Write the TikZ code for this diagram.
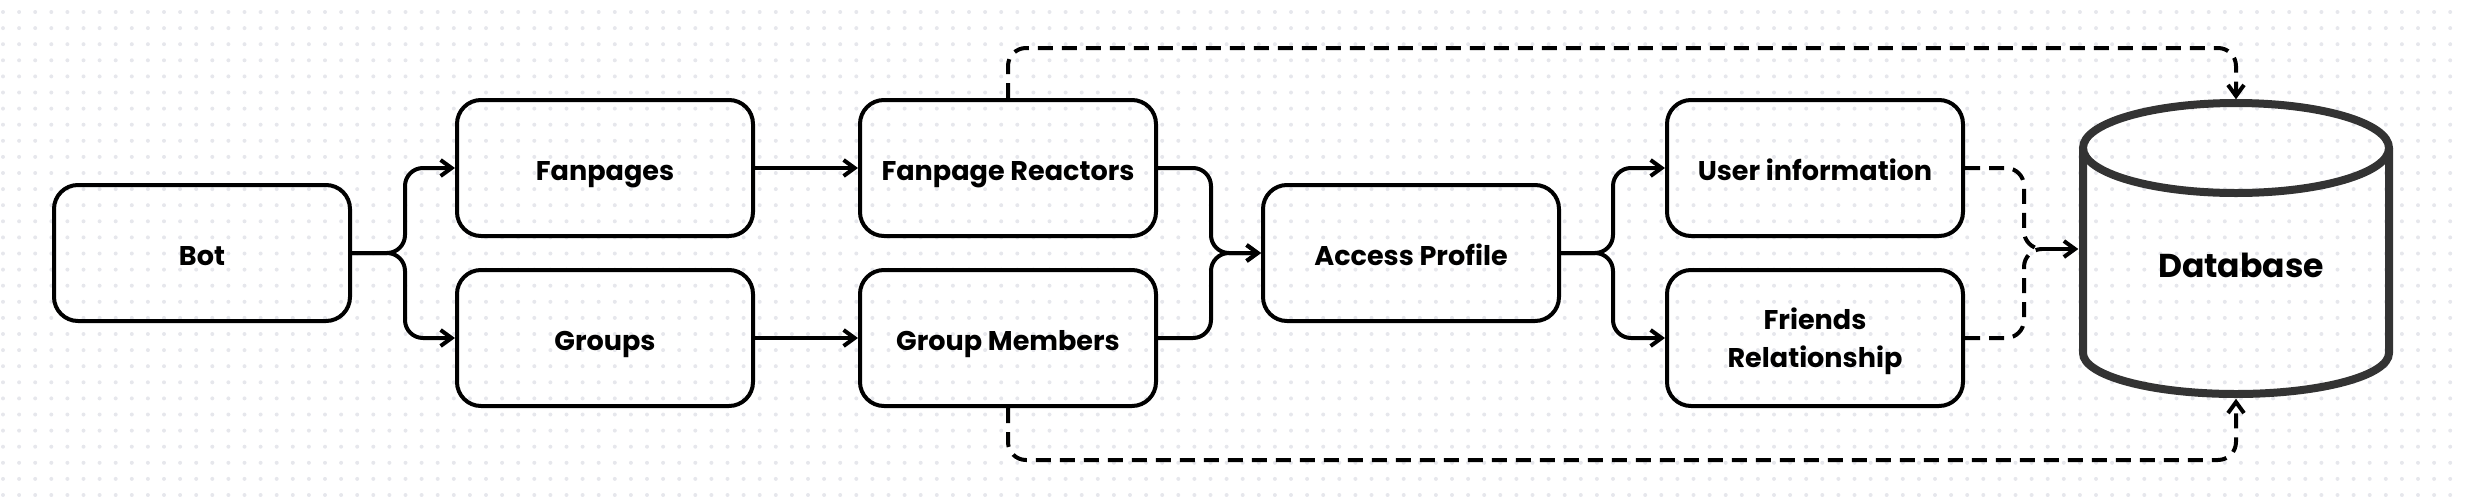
\documentclass[tikz,border=0pt]{standalone}
\usepackage{fontspec}
\setmainfont{Poppins}
\usetikzlibrary{arrows.meta}
\definecolor{dotgray}{HTML}{E6E7EC}
\definecolor{dbgray}{HTML}{333333}
\tikzset{
  boxbase/.style={draw, line width=0.4mm, rounded corners=2.4mm, minimum width=29.6mm,
    minimum height=13.6mm, align=center, font=\fontsize{7.7}{10.8}\selectfont\bfseries},
  box/.style={boxbase, text height=0.7em, text depth=0pt},
  boxtall/.style={boxbase, text height=1.7em, text depth=0pt},
  dbnode/.style={minimum width=31.4mm, minimum height=29.8mm, inner sep=0pt},
  dbtext/.style={font=\fontsize{9.4}{11}\selectfont\bfseries, text height=0.7em, text depth=0pt},
  link/.style={line width=0.4mm, rounded corners=1.8mm, -{Straight Barb[length=1.1mm,width=1.6mm]}},
  store/.style={link, dash pattern=on 1.5mm off 0.9mm},
}
\begin{document}
\begin{tikzpicture}[x=0.1mm,y=0.1mm]
  \useasboundingbox (0,0) rectangle (2470,498);
  \foreach \i in {0,...,152}
    \foreach \j in {0,...,30}
      \fill[dotgray] (3+16.1*\i,486-16.1*\j) circle (2);
  \path
    (202,245) node[box] (bot) {Bot}
    (605,330) node[box] (fan) {Fanpages}
    (605,160) node[box] (grp) {Groups}
    (1008,330) node[box] (react) {Fanpage Reactors}
    (1008,160) node[box] (memb) {Group Members}
    (1411,245) node[box] (access) {Access Profile}
    (1815,330) node[box] (info) {User information}
    (1815,160) node[boxtall] (friend) {Friends\\Relationship}
    (2236,249) node[dbnode] (db) {}
    (2241,233) node[dbtext] (dblabel) {Database};
  \begin{scope}[shift={(db.center)}, draw=dbgray, line width=0.8mm]
    \draw (0,101) ellipse [x radius=153, y radius=45];
    \draw (-153,101) -- (-153,-104)
      arc [start angle=180, end angle=360, x radius=153, y radius=41] -- (153,101);
  \end{scope}
  \begin{scope}[link]
    \draw (bot.east) -- ++(53,0) |- (fan.west);
    \draw (bot.east) -- ++(53,0) |- (grp.west);
    \draw (fan) -- (react);
    \draw (grp) -- (memb);
    \draw (react.east) -- ++(53,0) |- (access.west);
    \draw (memb.east) -- ++(53,0) |- (access.west);
    \draw (access.east) -- ++(52,0) |- (info.west);
    \draw (access.east) -- ++(52,0) |- (friend.west);
  \end{scope}
  \coordinate (merge) at (2040,249);
  \draw[store,-] (info.east) -- ++(59,0) |- (merge);
  \draw[store,-] (friend.east) -- ++(59,0) |- (merge);
  \draw[link] (merge) -- (db.west);
  \draw[store] (react.north) -- ++(0,50) -| (db.north);
  \draw[store] (memb.south) -- ++(0,-52) -| (db.south);
\end{tikzpicture}
\end{document}
